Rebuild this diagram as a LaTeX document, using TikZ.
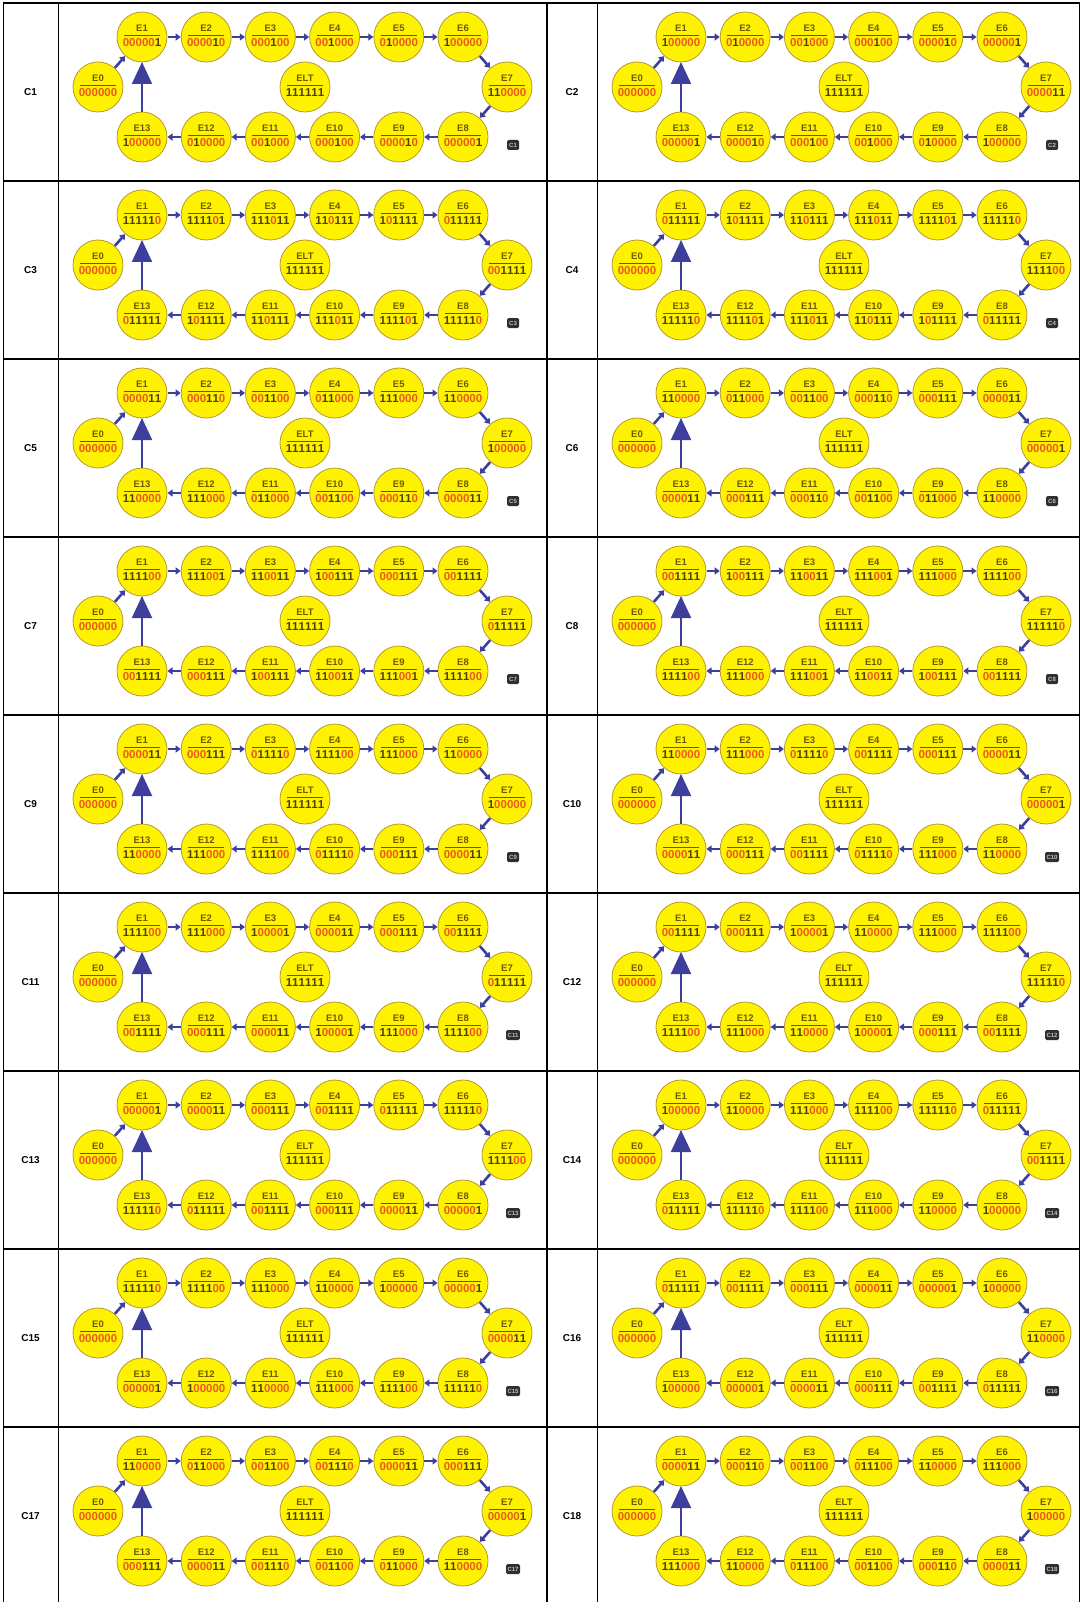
\documentclass[tikz,border=0pt]{standalone}
\usepackage{fontspec}
\setmainfont{Liberation Sans}
\usepackage{xcolor}
\usepackage{tikz}
\usetikzlibrary{arrows.meta,positioning}
\definecolor{ringyellow}{HTML}{FFF200}
\definecolor{ringedge}{HTML}{B39B2E}
\definecolor{labolive}{HTML}{6E5A00}
\definecolor{zerored}{HTML}{EC5A1A}
\definecolor{onedark}{HTML}{4F4200}
\definecolor{flowblue}{HTML}{3E3E9C}
\definecolor{tagdark}{HTML}{2F2F2F}
\tikzset{
  stage/.style={circle, draw=ringedge, fill=ringyellow, line width=0.8pt, minimum size=50pt,
                inner sep=0pt, outer sep=0pt, align=center, font=\fontsize{11.5}{12}\selectfont\bfseries},
  tagbox/.style={rectangle, rounded corners=1.5pt, fill=tagdark, text=white!75!black, minimum width=12pt,
                 minimum height=10pt, inner xsep=1.5pt, inner ysep=0pt, font=\fontsize{6}{7}\selectfont\bfseries},
  rowlbl/.style={font=\fontsize{10}{12}\selectfont\bfseries},
  flow/.style={-{Triangle[length=5pt,width=7pt]}, draw=flowblue, line width=2.6pt, shorten <=0.5pt, shorten >=0.5pt},
  loopback/.style={-{Triangle[length=22pt,width=20pt]}, draw=flowblue, line width=2pt},
  rowline/.style={line width=1.5pt},
  colline/.style={line width=0.9pt},
}
% coloured bit strings: 0 red, 1 dark
\newcommand\bits[1]{\bitrun#1\relax}
\def\bitrun#1{\ifx#1\relax\else\bitdigit#1\expandafter\bitrun\fi}
\def\bitdigit#1{\if#10\textcolor{zerored}{0}\else\textcolor{onedark}{1}\fi}
\newcommand\stagetext[3][1pt]{{\color{labolive}\fontsize{9.5}{12}\selectfont #2}\\[-8pt]{\color{labolive}\rule{36pt}{#1}}\\[-1.5pt]\bits{#3}\rule[-3pt]{0pt}{0pt}}
% one ring: tag, origin, bits of E1..E7 (E8..E13 repeat E1..E6)
\newcommand\ringcell[9]{%
\begin{scope}[shift={(#2)}]
  \node[stage] (#1-e1) at (84,34) {\stagetext{E1}{#3}};
  \node[stage, right=of #1-e1] (#1-e2) {\stagetext{E2}{#4}};
  \node[stage, right=of #1-e2] (#1-e3) {\stagetext{E3}{#5}};
  \node[stage, right=of #1-e3] (#1-e4) {\stagetext{E4}{#6}};
  \node[stage, right=of #1-e4] (#1-e5) {\stagetext{E5}{#7}};
  \node[stage, right=of #1-e5] (#1-e6) {\stagetext{E6}{#8}};
  \node[stage] (#1-e7) at (449,84) {\stagetext{E7}{#9}};
  \node[stage, below=50pt of #1-e6] (#1-e8) {\stagetext{E8}{#3}};
  \node[stage, left=of #1-e8] (#1-e9) {\stagetext[0.5pt]{E9}{#4}};
  \node[stage, left=of #1-e9] (#1-e10) {\stagetext[0.5pt]{E10}{#5}};
  \node[stage, left=of #1-e10] (#1-e11) {\stagetext[0.5pt]{E11}{#6}};
  \node[stage, left=of #1-e11] (#1-e12) {\stagetext[0.5pt]{E12}{#7}};
  \node[stage, left=of #1-e12] (#1-e13) {\stagetext[0.5pt]{E13}{#8}};
  \node[stage] (#1-e0) at (40,84) {\stagetext[0.5pt]{E0}{000000}};
  \node[stage] (#1-elt) at (247,84) {\stagetext{ELT}{111111}};
  \node[tagbox] (#1-tag) at (455,142) {#1};
  \draw[flow] (#1-e0) -- (#1-e1);
  \foreach \p/\q in {1/2,2/3,3/4,4/5,5/6,6/7,7/8,8/9,9/10,10/11,11/12,12/13}
    \draw[flow] (#1-e\p) -- (#1-e\q);
  \draw[loopback] (#1-e13) -- (#1-e1);
\end{scope}}

\begin{document}
\begin{tikzpicture}[x=1pt, y=-1pt, node distance=14.2pt]
\useasboundingbox (0,0) rectangle (1081,1602);

% table
\foreach \k in {0,...,8}
  \draw[rowline] (3,3+178*\k) -- (1079.5,3+178*\k);
\draw[colline] (3,3) -- (3,1602);
\draw[colline] (58,3) -- (58,1602);
\draw[rowline] (547,3) -- (547,1602);
\draw[colline] (597,3) -- (597,1602);
\draw[rowline] (1079.5,3) -- (1079.5,1602);

\foreach \r [count=\k from 0] in {1,3,...,17} {
  \pgfmathtruncatemacro\s{\r+1}
  \node[rowlbl] (lbl-C\r) at (30.5,92+178*\k) {C\r};
  \node[rowlbl] (lbl-C\s) at (572,92+178*\k) {C\s};
}

\ringcell{C1}{58,3}{000001}{000010}{000100}{001000}{010000}{100000}{110000}
\ringcell{C2}{597,3}{100000}{010000}{001000}{000100}{000010}{000001}{000011}
\ringcell{C3}{58,181}{111110}{111101}{111011}{110111}{101111}{011111}{001111}
\ringcell{C4}{597,181}{011111}{101111}{110111}{111011}{111101}{111110}{111100}
\ringcell{C5}{58,359}{000011}{000110}{001100}{011000}{111000}{110000}{100000}
\ringcell{C6}{597,359}{110000}{011000}{001100}{000110}{000111}{000011}{000001}
\ringcell{C7}{58,537}{111100}{111001}{110011}{100111}{000111}{001111}{011111}
\ringcell{C8}{597,537}{001111}{100111}{110011}{111001}{111000}{111100}{111110}
\ringcell{C9}{58,715}{000011}{000111}{011110}{111100}{111000}{110000}{100000}
\ringcell{C10}{597,715}{110000}{111000}{011110}{001111}{000111}{000011}{000001}
\ringcell{C11}{58,893}{111100}{111000}{100001}{000011}{000111}{001111}{011111}
\ringcell{C12}{597,893}{001111}{000111}{100001}{110000}{111000}{111100}{111110}
\ringcell{C13}{58,1071}{000001}{000011}{000111}{001111}{011111}{111110}{111100}
\ringcell{C14}{597,1071}{100000}{110000}{111000}{111100}{111110}{011111}{001111}
\ringcell{C15}{58,1249}{111110}{111100}{111000}{110000}{100000}{000001}{000011}
\ringcell{C16}{597,1249}{011111}{001111}{000111}{000011}{000001}{100000}{110000}
\ringcell{C17}{58,1427}{110000}{011000}{001100}{001110}{000011}{000111}{000001}
\ringcell{C18}{597,1427}{000011}{000110}{001100}{011100}{110000}{111000}{100000}
\end{tikzpicture}
\end{document}
